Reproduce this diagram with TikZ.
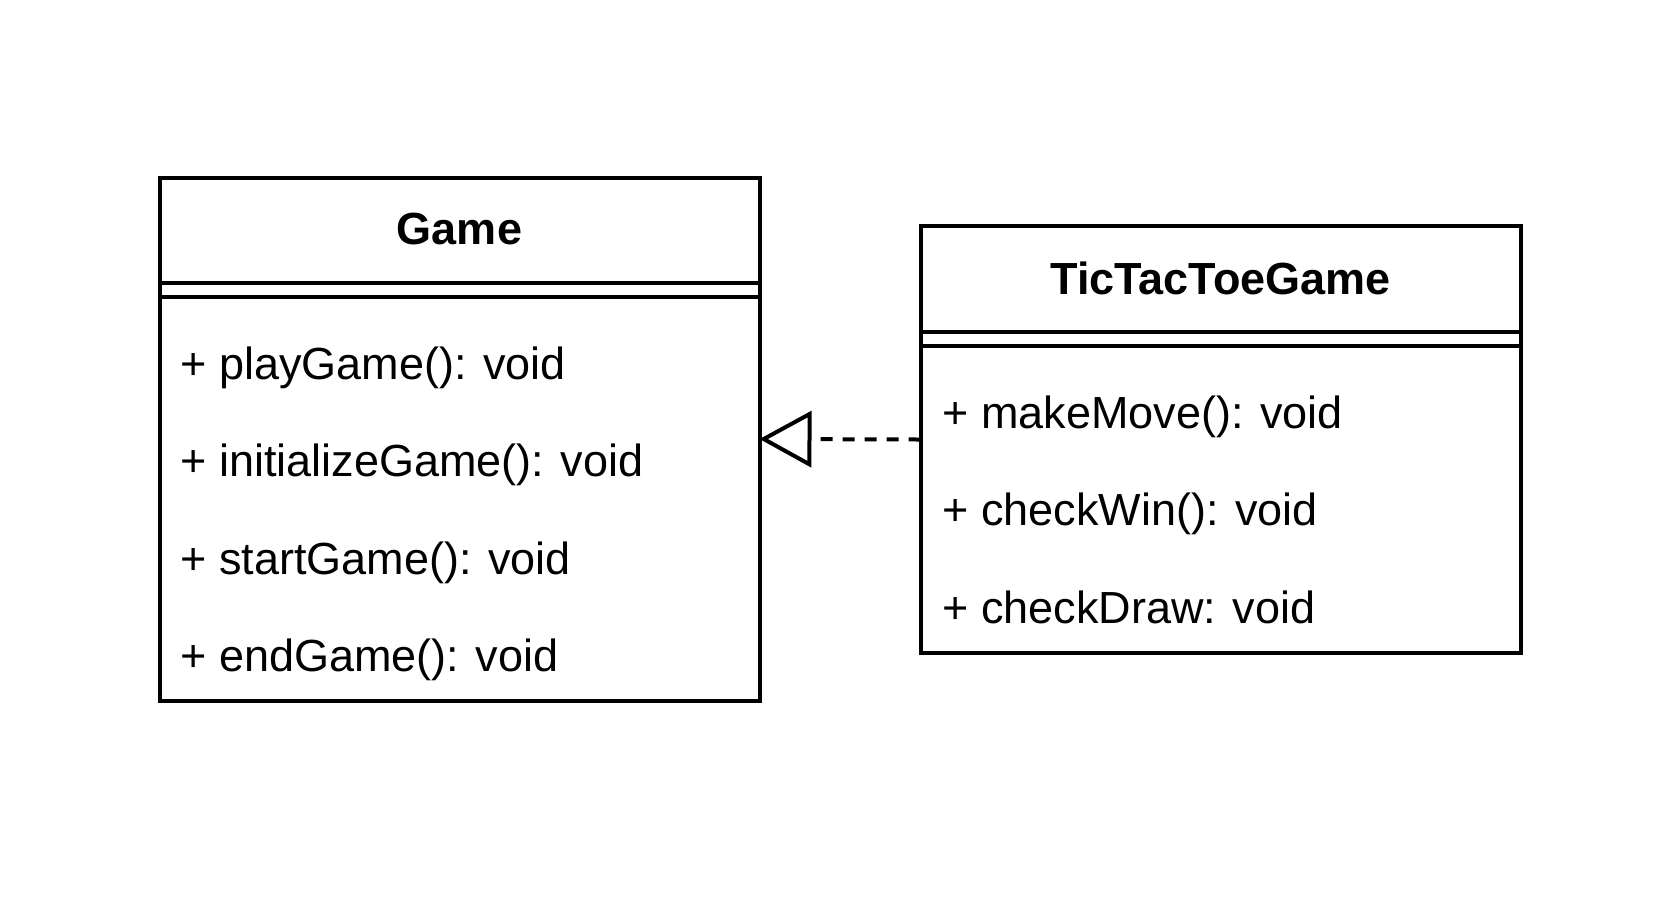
\documentclass[tikz,border=0pt]{standalone}
\usepackage{fontspec}
\setmainfont{Liberation Sans}
\usetikzlibrary{arrows.meta}
\begin{document}
\begin{tikzpicture}[x=0.5pt,y=-0.5pt,
  box/.style={draw,line width=2pt,rectangle,inner sep=0pt,outer sep=0pt},
  title/.style={font=\fontsize{22.5pt}{26pt}\selectfont\bfseries,inner sep=0pt,anchor=center},
  member/.style={font=\fontsize{22.5pt}{26pt}\selectfont,inner sep=0pt,anchor=base west},
  sep/.style={line width=2pt},
  realize/.style={line width=2pt,dash pattern=on 6pt off 5pt,-{Triangle[open,length=26pt,width=28pt,line width=2pt]}}
]
\useasboundingbox (0,0) rectangle (1678,902);
% Game class
\node[box,minimum width=300pt,minimum height=261.5pt] (game) at (459.5,439) {};
\draw[sep] (159.5,282.5) -- (759.5,282.5);
\draw[sep] (159.5,297) -- (759.5,297);
\node[title] (gametitle) at (459.5,229) {Game};
\node[member] (g_m1) at (180,379) {+ playGame(): void};
\node[member] (g_m2) at (180,476) {+ initializeGame(): void};
\node[member] (g_m3) at (180,574) {+ startGame(): void};
\node[member] (g_m4) at (180,671) {+ endGame(): void};
% TicTacToeGame class
\node[box,minimum width=300pt,minimum height=213.5pt] (ttt) at (1220.5,439.5) {};
\draw[sep] (920.5,331.5) -- (1520.5,331.5);
\draw[sep] (920.5,346) -- (1520.5,346);
\node[title] (ttttitle) at (1220.5,278) {TicTacToeGame};
\node[member] (t_m1) at (942,428) {+ makeMove(): void};
\node[member] (t_m2) at (942,525) {+ checkWin(): void};
\node[member] (t_m3) at (942,623) {+ checkDraw: void};
% realization
\draw[realize] (ttt.west) -- (game.east);
\end{tikzpicture}
\end{document}
